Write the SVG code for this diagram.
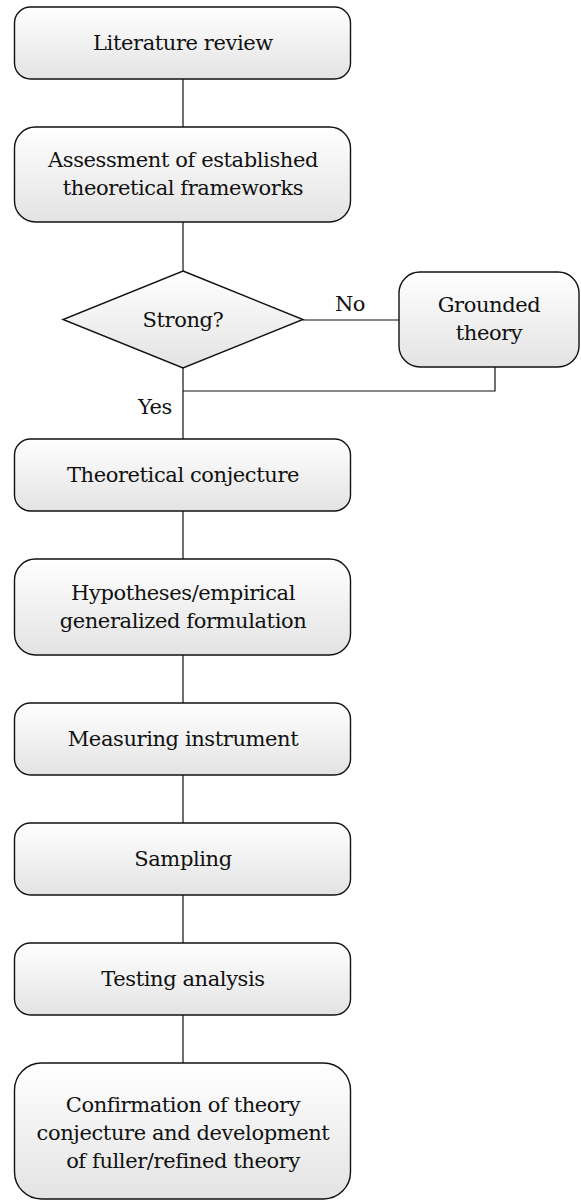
<svg xmlns="http://www.w3.org/2000/svg" width="581" height="1202" viewBox="0 0 581 1202">
  <defs>
    <linearGradient id="boxFill" x1="0" y1="0" x2="0" y2="1">
      <stop offset="0" stop-color="#ffffff"/>
      <stop offset="1" stop-color="#e3e3e3"/>
    </linearGradient>
  </defs>
  <style>
    .box { fill: url(#boxFill); stroke: #111; stroke-width: 1.4; }
    .link { fill: none; stroke: #111; stroke-width: 1.2; }
    .lbl { font-family: 'DejaVu Serif', 'Liberation Serif', serif; font-size: 21px; letter-spacing: -0.4px; fill: #111; text-anchor: middle; }
  </style>

  <!-- connectors -->
  <g id="connectors">
    <line class="link" x1="183" y1="79" x2="183" y2="127"/>
    <line class="link" x1="183" y1="222" x2="183" y2="271"/>
    <line class="link" x1="303" y1="320" x2="399" y2="320"/>
    <polyline class="link" points="495,367 495,391 183,391"/>
    <line class="link" x1="183" y1="368" x2="183" y2="439"/>
    <line class="link" x1="183" y1="511" x2="183" y2="559"/>
    <line class="link" x1="183" y1="655" x2="183" y2="703"/>
    <line class="link" x1="183" y1="775" x2="183" y2="823"/>
    <line class="link" x1="183" y1="895" x2="183" y2="943"/>
    <line class="link" x1="183" y1="1015" x2="183" y2="1063"/>
    <text class="lbl" x="350" y="311">No</text>
    <text class="lbl" x="172" y="414" style="text-anchor:end">Yes</text>
  </g>

  <g id="literature-review">
    <rect class="box" x="14.5" y="7" width="336" height="72" rx="16"/>
    <text class="lbl" x="183" y="50">Literature review</text>
  </g>

  <g id="assessment">
    <rect class="box" x="14.5" y="127" width="336" height="95" rx="21"/>
    <text class="lbl" x="183" y="167">Assessment of established</text>
    <text class="lbl" x="183" y="195">theoretical frameworks</text>
  </g>

  <g id="strong-decision">
    <polygon class="box" points="183,271 303,319.5 183,368 63,319.5"/>
    <text class="lbl" x="183" y="327">Strong?</text>
  </g>

  <g id="grounded-theory">
    <rect class="box" x="399" y="272" width="180" height="95" rx="21"/>
    <text class="lbl" x="489" y="311.5">Grounded</text>
    <text class="lbl" x="489" y="339.5">theory</text>
  </g>

  <g id="theoretical-conjecture">
    <rect class="box" x="14.5" y="439" width="336" height="72" rx="16"/>
    <text class="lbl" x="183" y="482">Theoretical conjecture</text>
  </g>

  <g id="hypotheses">
    <rect class="box" x="14.5" y="559" width="336" height="96" rx="21"/>
    <text class="lbl" x="183" y="600">Hypotheses/empirical</text>
    <text class="lbl" x="183" y="628">generalized formulation</text>
  </g>

  <g id="measuring-instrument">
    <rect class="box" x="14.5" y="703" width="336" height="72" rx="16"/>
    <text class="lbl" x="183" y="746">Measuring instrument</text>
  </g>

  <g id="sampling">
    <rect class="box" x="14.5" y="823" width="336" height="72" rx="16"/>
    <text class="lbl" x="183" y="866">Sampling</text>
  </g>

  <g id="testing-analysis">
    <rect class="box" x="14.5" y="943" width="336" height="72" rx="16"/>
    <text class="lbl" x="183" y="986">Testing analysis</text>
  </g>

  <g id="confirmation">
    <rect class="box" x="14.5" y="1063" width="336" height="136" rx="27"/>
    <text class="lbl" x="183" y="1112">Confirmation of theory</text>
    <text class="lbl" x="183" y="1140">conjecture and development</text>
    <text class="lbl" x="183" y="1168">of fuller/refined theory</text>
  </g>
</svg>
